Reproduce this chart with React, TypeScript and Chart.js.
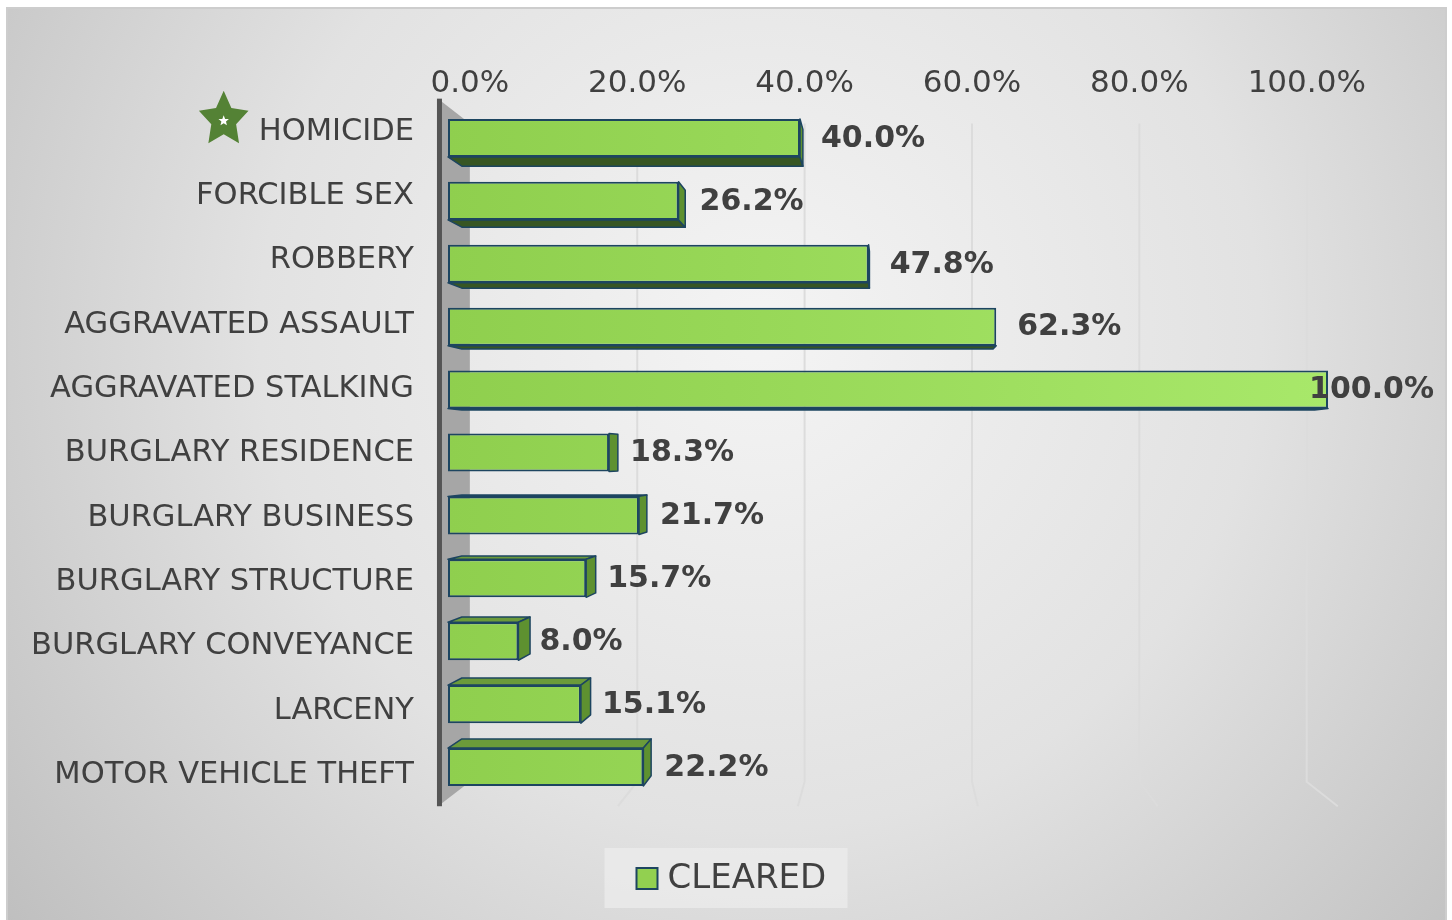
import React, { useEffect, useRef } from 'react';
import { Chart, registerables } from 'chart.js';

Chart.register(...registerables);

// ---------------- data ----------------
const categories = [
  'HOMICIDE',
  'FORCIBLE SEX',
  'ROBBERY',
  'AGGRAVATED ASSAULT',
  'AGGRAVATED STALKING',
  'BURGLARY RESIDENCE',
  'BURGLARY BUSINESS',
  'BURGLARY STRUCTURE',
  'BURGLARY CONVEYANCE',
  'LARCENY',
  'MOTOR VEHICLE THEFT',
];
const clearedValues = [40.0, 26.2, 47.8, 62.3, 100.0, 18.3, 21.7, 15.7, 8.0, 15.1, 22.2];
const seriesLabel = 'CLEARED';
const tickValues = [0, 20, 40, 60, 80, 100];
const starredCategory = 'HOMICIDE';

// ---------------- geometry / style ----------------
const W = 1452;
const H = 920;
const AREA = { left: 448, right: 1328, top: 106.5, bottom: 798.5 };
const VP = { x: 894, y: 455 }; // vanishing point of the 3D perspective
const BAR_DEPTH = 0.031;
const FRONT_SCALE = 1.0225;
const BACK_SCALE = 0.951;
const FONT = '"DejaVu Sans", Verdana, sans-serif';
const TEXT = '#404040';
const OUTLINE = '#1d4560';
const TICK_SIZE = 31;
const TICK_PAD = 4;

const backX0 = VP.x + (AREA.left - VP.x) * BACK_SCALE;
const backSlope = (BACK_SCALE * (AREA.right - AREA.left)) / 100;
const x2Min = (AREA.left - backX0) / backSlope;
const x2Max = (AREA.right - backX0) / backSlope;
const topPad = AREA.top - (TICK_SIZE * 1.2 + TICK_PAD * 2);

type P = { x: number; y: number };
const proj = (p: P, s: number): P => ({ x: VP.x + (p.x - VP.x) * s, y: VP.y + (p.y - VP.y) * s });

function poly(ctx: CanvasRenderingContext2D, pts: P[], fill: string, stroke?: string, lw = 1.5) {
  ctx.beginPath();
  ctx.moveTo(pts[0].x, pts[0].y);
  for (let i = 1; i < pts.length; i++) ctx.lineTo(pts[i].x, pts[i].y);
  ctx.closePath();
  ctx.fillStyle = fill;
  ctx.fill();
  if (stroke) {
    ctx.strokeStyle = stroke;
    ctx.lineWidth = lw;
    ctx.lineJoin = 'round';
    ctx.stroke();
  }
}

function star(ctx: CanvasRenderingContext2D, cx: number, cy: number, R: number, r: number, sx: number, fill: string) {
  ctx.beginPath();
  for (let i = 0; i < 10; i++) {
    const rad = i % 2 === 0 ? R : r;
    const a = -Math.PI / 2 + (i * Math.PI) / 5;
    const x = cx + Math.cos(a) * rad * sx;
    const y = cy + Math.sin(a) * rad;
    if (i === 0) ctx.moveTo(x, y);
    else ctx.lineTo(x, y);
  }
  ctx.closePath();
  ctx.fillStyle = fill;
  ctx.fill();
}

const decoPlugin = {
  id: 'deco3d',
  beforeDraw(chart: any) {
    const ctx: CanvasRenderingContext2D = chart.ctx;
    ctx.save();
    ctx.fillStyle = '#ffffff';
    ctx.fillRect(0, 0, W, H);
    const g = ctx.createRadialGradient(760, 330, 0, 760, 330, 1000);
    g.addColorStop(0, '#f4f4f4');
    g.addColorStop(0.5, '#e2e2e2');
    g.addColorStop(1, '#bcbcbc');
    ctx.fillStyle = g;
    ctx.fillRect(7, 8, 1439, 913);
    ctx.strokeStyle = '#cdcdcd';
    ctx.lineWidth = 2;
    ctx.strokeRect(7, 8, 1439, 916);
    ctx.restore();
  },
  beforeDatasetsDraw(chart: any) {
    const ctx: CanvasRenderingContext2D = chart.ctx;
    const ca = chart.chartArea;
    const x2 = chart.scales.x2;
    ctx.save();
    // gridlines on back wall + floor
    const fb = FRONT_SCALE / BACK_SCALE;
    const bTopY = proj({ x: ca.left, y: ca.top }, BACK_SCALE).y;
    const bBotY = proj({ x: ca.left, y: ca.bottom }, BACK_SCALE).y;
    ctx.strokeStyle = '#dcdcdc';
    ctx.lineWidth = 2;
    tickValues.forEach((v) => {
      if (v === 0) return;
      const bx = x2.getPixelForValue(v);
      const f = proj({ x: bx, y: bBotY }, fb);
      ctx.beginPath();
      ctx.moveTo(bx, bTopY);
      ctx.lineTo(bx, bBotY);
      ctx.lineTo(f.x, f.y);
      ctx.stroke();
    });
    // left wall
    const fTop = proj({ x: ca.left, y: ca.top }, FRONT_SCALE);
    const fBot = proj({ x: ca.left, y: ca.bottom }, FRONT_SCALE);
    const bTop = proj({ x: ca.left, y: ca.top }, BACK_SCALE);
    const bBot = proj({ x: ca.left, y: ca.bottom }, BACK_SCALE);
    poly(ctx, [fTop, bTop, bBot, fBot], '#a6a6a6');
    ctx.fillStyle = '#555555';
    ctx.fillRect(fTop.x - 1, fTop.y, 5, fBot.y - fTop.y);

    // bar side faces
    const meta = chart.getDatasetMeta(0);
    const s = 1 - BAR_DEPTH;
    meta.data.forEach((el: any) => {
      const { x, y, base, height } = el.getProps(['x', 'y', 'base', 'height'], true);
      const x0 = Math.min(base, x);
      const x1 = Math.max(base, x);
      const yT = y - height / 2;
      const yB = y + height / 2;
      const FTL = { x: x0, y: yT }, FTR = { x: x1, y: yT }, FBR = { x: x1, y: yB }, FBL = { x: x0, y: yB };
      const BTL = proj(FTL, s), BTR = proj(FTR, s), BBR = proj(FBR, s), BBL = proj(FBL, s);
      if (yB < VP.y) poly(ctx, [FBL, FBR, BBR, BBL], '#375623', OUTLINE);
      if (yT > VP.y) poly(ctx, [FTL, FTR, BTR, BTL], '#6b9b3a', OUTLINE);
      if (x1 < VP.x) poly(ctx, [FTR, FBR, BBR, BTR], '#5e9130', OUTLINE);
    });
    ctx.restore();
  },
  afterDatasetsDraw(chart: any) {
    const ctx: CanvasRenderingContext2D = chart.ctx;
    const yScale = chart.scales.y;
    const meta = chart.getDatasetMeta(0);
    const ds = chart.data.datasets[0];
    ctx.save();
    // value labels
    ctx.font = `bold 30px ${FONT}`;
    ctx.fillStyle = TEXT;
    ctx.textBaseline = 'middle';
    ctx.textAlign = 'left';
    meta.data.forEach((el: any, i: number) => {
      const { x, y } = el.getProps(['x', 'y'], true);
      const txt = Number(ds.data[i]).toFixed(1) + '%';
      const w = ctx.measureText(txt).width;
      const lx = Math.min(x + 21, W - 18 - w);
      ctx.fillText(txt, lx, y + 1);
    });
    // category labels (front plane)
    ctx.font = `30.5px ${FONT}`;
    ctx.textAlign = 'right';
    chart.data.labels.forEach((lab: string, i: number) => {
      const cy = yScale.getPixelForValue(i);
      const ly = VP.y + (cy - VP.y) * FRONT_SCALE + 1;
      ctx.fillStyle = TEXT;
      ctx.fillText(lab, 414, ly);
      if (lab === starredCategory) {
        const w = ctx.measureText(lab).width;
        const sx = 414 - w - 35;
        star(ctx, sx, ly - 12, 29, 14.5, 0.9, '#548235');
        star(ctx, sx, ly - 11, 5.5, 2.4, 1, '#ffffff');
      }
    });
    // legend
    const boxW = 243, boxH = 60;
    const bx = W / 2 - boxW / 2;
    const by = 848;
    ctx.fillStyle = 'rgba(236,236,236,0.75)';
    ctx.fillRect(bx, by, boxW, boxH);
    ctx.fillStyle = '#92d050';
    ctx.fillRect(bx + 32, by + 20, 21, 21);
    ctx.strokeStyle = OUTLINE;
    ctx.lineWidth = 2;
    ctx.strokeRect(bx + 32, by + 20, 21, 21);
    ctx.font = `34px ${FONT}`;
    ctx.fillStyle = TEXT;
    ctx.textAlign = 'left';
    ctx.textBaseline = 'middle';
    ctx.fillText(ds.label, bx + 63, by + 31);
    ctx.restore();
  },
};

export default function App() {
  const ref = useRef<HTMLCanvasElement | null>(null);
  useEffect(() => {
    if (!ref.current) return;
    const chart = new Chart(ref.current, {
      type: 'bar',
      data: {
        labels: categories,
        datasets: [
          {
            label: seriesLabel,
            data: clearedValues,
            xAxisID: 'x',
            yAxisID: 'y',
            backgroundColor: (c: any) => {
              const ca = c.chart.chartArea;
              if (!ca) return '#92d050';
              const g = c.chart.ctx.createLinearGradient(ca.left, 0, ca.right, 0);
              g.addColorStop(0, '#8fcf4e');
              g.addColorStop(1, '#a8e86a');
              return g;
            },
            borderColor: OUTLINE,
            borderWidth: 2,
            borderSkipped: false,
            barPercentage: 0.605,
            categoryPercentage: 1,
          } as any,
        ],
      },
      options: {
        indexAxis: 'y',
        animation: false,
        responsive: false,
        devicePixelRatio: 1,
        layout: { padding: { left: AREA.left, right: W - AREA.right, top: topPad, bottom: H - AREA.bottom } },
        scales: {
          x: { type: 'linear', min: 0, max: 100, display: false },
          x2: {
            type: 'linear',
            position: 'top',
            min: x2Min,
            max: x2Max,
            grid: { display: false, drawTicks: false },
            border: { display: false },
            afterBuildTicks: (s: any) => {
              s.ticks = tickValues.map((v) => ({ value: v }));
            },
            ticks: {
              padding: TICK_PAD,
              autoSkip: false,
              maxRotation: 0,
              color: TEXT,
              font: { family: FONT, size: TICK_SIZE },
              callback: (v: any) => Number(v).toFixed(1) + '%',
            },
          },
          y: { type: 'category', display: false, offset: true },
        },
        plugins: { legend: { display: false }, tooltip: { enabled: false } },
      } as any,
      plugins: [decoPlugin],
    });
    return () => chart.destroy();
  }, []);
  return (
    <div style={{ position: 'fixed', left: 0, top: 0, width: W, height: H }}>
      <canvas ref={ref} width={W} height={H} style={{ display: 'block', width: W, height: H }} />
    </div>
  );
}
